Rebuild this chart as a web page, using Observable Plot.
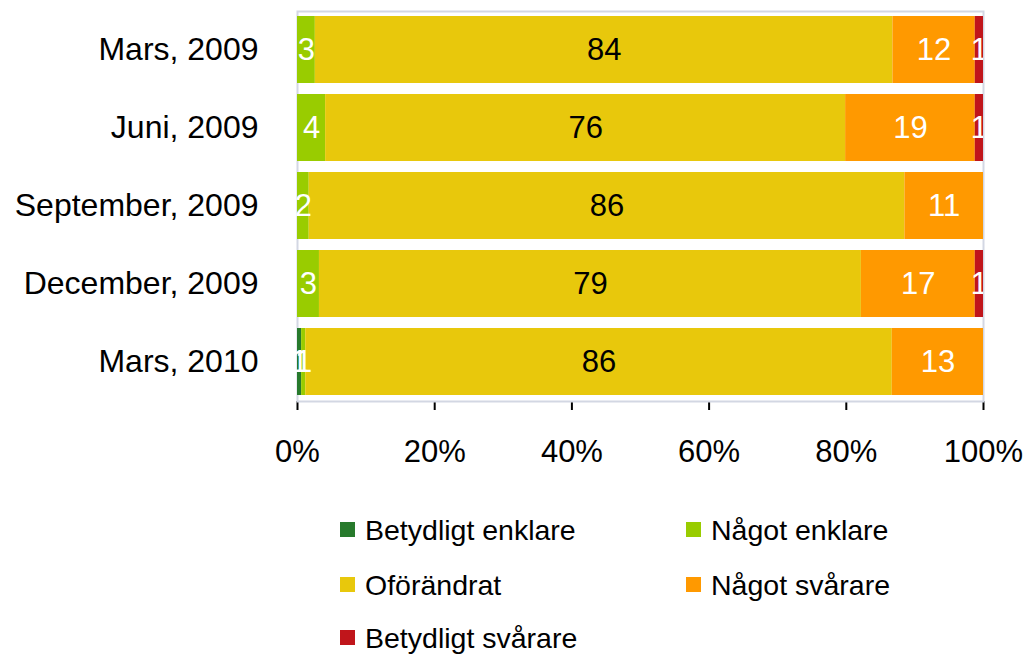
<!DOCTYPE html>
<html>
<head>
<meta charset="utf-8">
<script src="https://cdn.jsdelivr.net/npm/d3@7"></script>
<script src="https://cdn.jsdelivr.net/npm/@observablehq/plot@0.6"></script>
<style>
  html, body { margin: 0; padding: 0; background: #fff; }
  body { width: 1026px; height: 656px; overflow: hidden; font-family: "Liberation Sans", Arial, sans-serif; }
  #chart svg [aria-label^="x-axis"] { stroke-width: 2px; stroke: #000; }
  #chart svg [aria-label^="x-axis"] text, #chart svg text[aria-label^="x-axis"] { stroke: none; }
  #chart svg [aria-label^="y-axis"] { font-size: 32px; }
  #legend { position: relative; width: 1026px; height: 166px; }
  .item { position: absolute; height: 32px; line-height: 32px; font-size: 28.5px; color: #000; white-space: nowrap; }
  .sw { position: absolute; left: 0; top: 8px; width: 15px; height: 15px; }
  .lbl { position: absolute; left: 25px; top: 0; }
</style>
</head>
<body>
<div id="chart"></div>
<div id="legend"></div>
<script>
// ---- data ----
const dates = ["Mars, 2009", "Juni, 2009", "September, 2009", "December, 2009", "Mars, 2010"];
const categories = ["Betydligt enklare", "Något enklare", "Oförändrat", "Något svårare", "Betydligt svårare"];
const betydligtEnklare = [0, 0, 0, 0, 0.6];
const nagotEnklare = [2.6, 4.1, 1.7, 3.2, 0.6];
const oforandrat = [84.2, 75.8, 86.4, 79.0, 85.5];
const nagotSvarare = [12.0, 18.9, 11.4, 16.6, 13.3];
const betydligtSvarare = [1.2, 1.2, 0, 1.2, 0];
const colors = ["#277a2c", "#99cc00", "#e8c80c", "#ff9900", "#c0151b"];
const xTicks = [0, 0.2, 0.4, 0.6, 0.8, 1];
const xTickLabels = ["0%", "20%", "40%", "60%", "80%", "100%"];

const series = [betydligtEnklare, nagotEnklare, oforandrat, nagotSvarare, betydligtSvarare];
const data = [];
dates.forEach((date, i) => {
  categories.forEach((cat, j) => {
    data.push({date, cat, value: series[j][i]});
  });
});

const stackOpts = {offset: "normalize", order: categories};

const chart = Plot.plot({
  width: 1026,
  height: 490,
  marginLeft: 297,
  marginRight: 43,
  marginTop: 11,
  marginBottom: 89,
  style: {fontFamily: "'Liberation Sans', Arial, sans-serif", fontSize: "31px", background: "white", color: "black", overflow: "visible"},
  x: {domain: [0, 1], ticks: xTicks, tickFormat: d => xTickLabels[xTicks.indexOf(d)] ?? "", tickSize: 9, tickPadding: 29, label: null, line: true},
  y: {domain: dates, paddingInner: 0.14, paddingOuter: 0.065, tickSize: 0, tickPadding: 39, label: null},
  color: {domain: categories, range: colors},
  marks: [
    Plot.frame({stroke: "#d3d7e3", strokeWidth: 2}),
    Plot.barX(data, Plot.stackX(stackOpts, {x: "value", y: "date", z: "cat", fill: "cat"})),
    Plot.text(data, Plot.stackX(stackOpts, {
      x: "value", y: "date", z: "cat",
      text: d => (d.value > 0 && d.cat === "Oförändrat") ? String(Math.round(d.value)) : "",
      fill: "black", fontSize: 31
    })),
    Plot.text(data, Plot.stackX(stackOpts, {
      x: "value", y: "date", z: "cat",
      text: d => (d.value > 0 && d.cat !== "Oförändrat" && d.cat !== "Betydligt svårare") ? String(Math.round(d.value)) : "",
      fill: "white", fontSize: 31
    })),
    Plot.text(data, Plot.stackX(stackOpts, {
      x: "value", y: "date", z: "cat",
      text: d => (d.value > 0 && d.cat === "Betydligt svårare") ? String(Math.round(d.value)) : "",
      fill: "white", fontSize: 31, clip: true
    }))
  ]
});
document.getElementById("chart").appendChild(chart);

// ---- legend ----
const legendPos = [
  {left: 340, center: 530},
  {left: 686, center: 530},
  {left: 340, center: 585},
  {left: 686, center: 585},
  {left: 340, center: 638}
];
const legend = document.getElementById("legend");
categories.forEach((cat, j) => {
  const item = document.createElement("div");
  item.className = "item";
  item.style.left = legendPos[j].left + "px";
  item.style.top = (legendPos[j].center - 16 - 490) + "px";
  const sw = document.createElement("span");
  sw.className = "sw";
  sw.style.background = colors[j];
  const lbl = document.createElement("span");
  lbl.className = "lbl";
  lbl.textContent = cat;
  item.appendChild(sw);
  item.appendChild(lbl);
  legend.appendChild(item);
});
</script>
</body>
</html>
